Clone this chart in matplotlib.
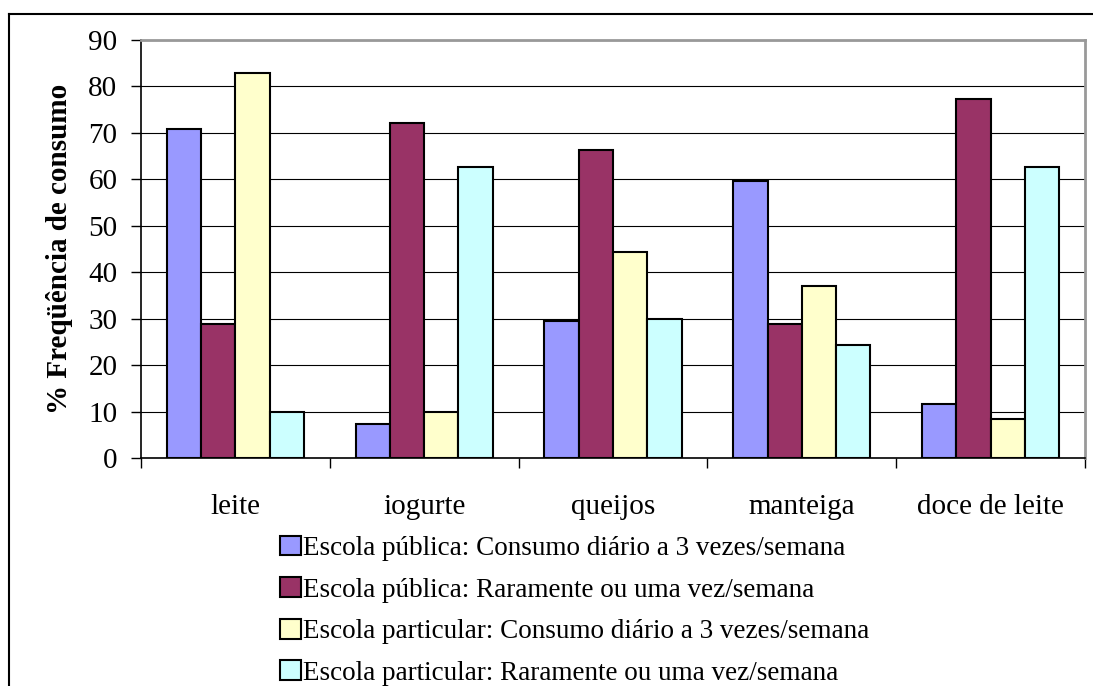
import numpy as np
import matplotlib
matplotlib.use("Agg")
import matplotlib.pyplot as plt
from matplotlib.lines import Line2D

categories = ["leite", "iogurte", "queijos", "manteiga", "doce de leite"]
series_labels = [
    "Escola pública: Consumo diário a 3 vezes/semana",
    "Escola pública: Raramente ou uma vez/semana",
    "Escola particular: Consumo diário a 3 vezes/semana",
    "Escola particular: Raramente ou uma vez/semana",
]
publica_diario = [70.9, 7.3, 29.5, 59.6, 11.7]
publica_raro = [28.8, 72.2, 66.3, 28.8, 77.2]
particular_diario = [82.9, 10.0, 44.3, 37.1, 8.4]
particular_raro = [9.9, 62.7, 30.0, 24.3, 62.7]
colors = ["#9999FF", "#993366", "#FFFFCC", "#CCFFFF"]

plt.rcParams["font.family"] = ["Liberation Serif", "DejaVu Serif"]

fig = plt.figure(figsize=(10.93, 6.86), dpi=100)
ax = fig.add_axes([0.129, 0.3324, 0.8637, 0.6093])

series = [publica_diario, publica_raro, particular_diario, particular_raro]
x = np.arange(len(categories))
w = 0.1815
for i, (vals, col, lab) in enumerate(zip(series, colors, series_labels)):
    ax.bar(x + (i - 1.5) * w, vals, width=w, color=col, edgecolor="black",
           linewidth=1.5, label=lab, zorder=3)

ax.set_xlim(-0.5, len(categories) - 0.5)
ax.set_ylim(0, 90)
ax.set_yticks(range(0, 91, 10))
ax.yaxis.grid(True, color="black", linewidth=0.8, zorder=0)
ax.tick_params(axis="y", labelsize=21, length=7, width=1, direction="out", pad=10)

ax.set_xticks(x)
ax.set_xticklabels(categories)
ax.tick_params(axis="x", which="major", length=0, labelsize=21, pad=26)
ax.set_xticks(np.arange(-0.5, len(categories)), minor=True)
ax.tick_params(axis="x", which="minor", length=7, width=1, direction="out")

ax.spines["left"].set_color("black")
ax.spines["left"].set_linewidth(1.2)
ax.spines["bottom"].set_color("black")
ax.spines["bottom"].set_linewidth(1.2)
for s in ("top", "right"):
    ax.spines[s].set_color("#999999")
    ax.spines[s].set_linewidth(2)

ax.set_ylabel("% Freqüência de consumo", fontsize=21, fontweight="bold", labelpad=11)

fig.legend(loc="upper left", bbox_to_anchor=(0.2465, 0.235), frameon=False,
           fontsize=19.5, handlelength=0.75, handleheight=0.75,
           handletextpad=0.1, labelspacing=0.6, borderaxespad=0)

# outer border (top and left only visible in crop)
fig.add_artist(Line2D([9 / 1093, 1.0], [1 - 14 / 686, 1 - 14 / 686],
                      transform=fig.transFigure, color="black", linewidth=1.5))
fig.add_artist(Line2D([9 / 1093, 9 / 1093], [0, 1 - 14 / 686],
                      transform=fig.transFigure, color="black", linewidth=1.5))

fig.savefig("out.png", dpi=100)
